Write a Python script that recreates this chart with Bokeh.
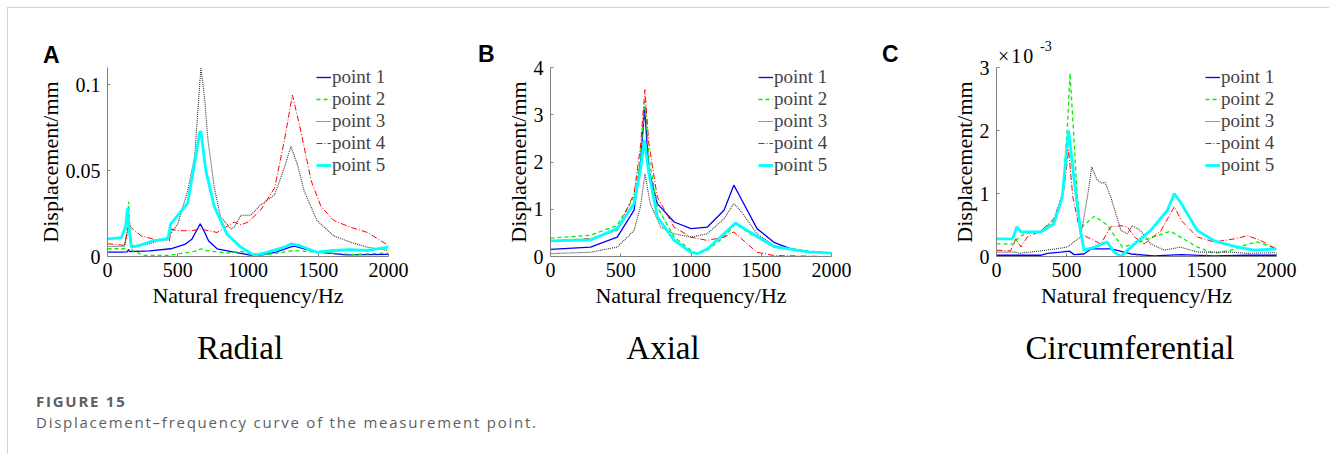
from bokeh.plotting import figure
from bokeh.models import (Range1d, FixedTicker, NumeralTickFormatter, Legend,
                          LegendItem, Div)
from bokeh.layouts import row, column
from bokeh.embed import file_html
from bokeh.resources import INLINE

SERIF = "Liberation Serif"

names = ["point 1", "point 2", "point 3", "point 4", "point 5"]
x_ticks = [0, 500, 1000, 1500, 2000]
panel_letters = ["A", "B", "C"]
panel_titles = ["Radial", "Axial", "Circumferential"]

# ---------------- Panel A : Radial (mm) ----------------
a_f1 = [0, 100, 140, 150, 160, 300, 450, 550, 600, 640, 660, 680, 720, 780, 900, 1050, 1200, 1300, 1330, 1400, 1500, 1700, 2000]
a_v1 = [0.0025, 0.0025, 0.0027, 0.0040, 0.0028, 0.0033, 0.0045, 0.0070, 0.0100, 0.0160, 0.0190, 0.0160, 0.0090, 0.0045, 0.0025, 0.0003, 0.0025, 0.0055, 0.0060, 0.0045, 0.0025, 0.0010, 0.0012]
a_f2 = [0, 120, 140, 150, 160, 175, 260, 430, 620, 665, 700, 850, 950, 1090, 1250, 1320, 1500, 1750, 2000]
a_v2 = [0.0045, 0.0045, 0.0150, 0.0320, 0.0150, 0.0035, 0.0006, 0.0006, 0.0030, 0.0045, 0.0035, 0.0020, 0.0030, 0.0007, 0.0025, 0.0035, 0.0025, 0.0012, 0.0020]
a_f3 = [0, 120, 150, 175, 300, 430, 500, 570, 620, 650, 665, 690, 715, 760, 805, 880, 900, 950, 1020, 1090, 1190, 1260, 1305, 1350, 1400, 1490, 1610, 1730, 1850, 2000]
a_v3 = [0.0058, 0.0060, 0.0180, 0.0060, 0.0074, 0.0110, 0.0190, 0.0380, 0.0580, 0.0930, 0.1100, 0.0930, 0.0680, 0.0400, 0.0230, 0.0160, 0.0170, 0.0240, 0.0240, 0.0300, 0.0360, 0.0520, 0.0640, 0.0540, 0.0380, 0.0210, 0.0120, 0.0083, 0.0054, 0.0035]
a_f4 = [0, 120, 145, 155, 165, 240, 330, 440, 455, 500, 600, 660, 780, 900, 950, 1000, 1090, 1190, 1260, 1316, 1376, 1450, 1520, 1610, 1730, 1850, 2000]
a_v4 = [0.0074, 0.0065, 0.0150, 0.0200, 0.0170, 0.0120, 0.0100, 0.0090, 0.0160, 0.0150, 0.0150, 0.0160, 0.0140, 0.0200, 0.0185, 0.0200, 0.0270, 0.0400, 0.0680, 0.0940, 0.0730, 0.0440, 0.0290, 0.0210, 0.0170, 0.0140, 0.0064]
a_f5 = [0, 100, 130, 142, 155, 170, 230, 330, 430, 450, 500, 570, 620, 655, 665, 700, 760, 850, 950, 1045, 1140, 1260, 1310, 1380, 1490, 1610, 1730, 1850, 2000]
a_v5 = [0.0103, 0.0110, 0.0180, 0.0280, 0.0150, 0.0054, 0.0065, 0.0093, 0.0103, 0.0190, 0.0240, 0.0310, 0.0540, 0.0720, 0.0730, 0.0500, 0.0290, 0.0130, 0.0054, 0.0006, 0.0025, 0.0055, 0.0074, 0.0060, 0.0025, 0.0035, 0.0040, 0.0035, 0.0054]
a_y_ticks = [0, 0.05, 0.1]

# ---------------- Panel B : Axial (mm) ----------------
b_f1 = [0, 285, 475, 595, 640, 670, 700, 760, 880, 1000, 1115, 1235, 1305, 1350, 1470, 1590, 1710, 1830, 2000]
b_v1 = [0.15, 0.20, 0.41, 0.98, 1.97, 3.14, 1.83, 1.12, 0.73, 0.59, 0.62, 0.98, 1.51, 1.26, 0.59, 0.30, 0.16, 0.11, 0.07]
b_f2 = [0, 285, 475, 595, 640, 672, 700, 760, 880, 1000, 1045, 1115, 1235, 1316, 1400, 1590, 1830, 2000]
b_v2 = [0.39, 0.45, 0.66, 1.26, 2.11, 3.29, 2.10, 1.05, 0.41, 0.13, 0.06, 0.13, 0.41, 0.69, 0.52, 0.20, 0.10, 0.07]
b_f3 = [0, 285, 475, 595, 640, 672, 710, 785, 880, 1000, 1115, 1235, 1305, 1350, 1470, 1590, 1830, 2000]
b_v3 = [0.06, 0.09, 0.20, 0.55, 1.05, 1.75, 1.12, 0.62, 0.48, 0.41, 0.48, 0.80, 1.12, 0.98, 0.48, 0.23, 0.11, 0.07]
b_f4 = [0, 285, 475, 595, 640, 672, 700, 760, 880, 1000, 1115, 1235, 1305, 1350, 1470, 1590, 1800, 2000]
b_v4 = [0.33, 0.38, 0.55, 1.33, 2.32, 3.53, 2.39, 1.26, 0.62, 0.41, 0.34, 0.41, 0.52, 0.40, 0.09, 0.02, 0.01, 0.00]
b_f5 = [0, 285, 475, 595, 640, 668, 700, 760, 880, 1000, 1045, 1115, 1235, 1316, 1400, 1590, 1830, 2000]
b_v5 = [0.33, 0.35, 0.59, 1.12, 1.83, 2.46, 1.76, 0.84, 0.34, 0.09, 0.06, 0.16, 0.48, 0.71, 0.55, 0.21, 0.10, 0.07]
b_y_ticks = [0, 1, 2, 3, 4]

# ---------------- Panel C : Circumferential (x 10^-3 mm) ----------------
c_f1 = [0, 320, 365, 460, 520, 555, 625, 675, 820, 960, 1125, 1320, 1550, 1800, 2000]
c_v1 = [0.02, 0.02, 0.05, 0.07, 0.085, 0.03, 0.04, 0.12, 0.12, 0.04, 0.01, 0.03, 0.01, 0.02, 0.02]
c_f2 = [0, 125, 150, 200, 320, 410, 470, 505, 525, 550, 575, 600, 700, 790, 900, 985, 1100, 1245, 1320, 1435, 1555, 1675, 1800, 1865, 2000]
c_v2 = [0.20, 0.20, 0.28, 0.36, 0.41, 0.57, 0.95, 2.00, 2.91, 2.00, 1.00, 0.45, 0.64, 0.50, 0.15, 0.20, 0.30, 0.40, 0.30, 0.15, 0.05, 0.10, 0.20, 0.23, 0.12]
c_f3 = [0, 140, 160, 360, 505, 600, 650, 680, 720, 757, 775, 815, 890, 935, 970, 1030, 1100, 1200, 1315, 1435, 1670, 1790, 2000]
c_v3 = [0.07, 0.07, 0.05, 0.10, 0.15, 0.31, 0.95, 1.42, 1.21, 1.16, 1.18, 0.95, 0.41, 0.36, 0.49, 0.41, 0.20, 0.10, 0.15, 0.07, 0.07, 0.05, 0.06]
c_f4 = [0, 100, 138, 175, 220, 320, 410, 480, 515, 545, 600, 700, 745, 815, 890, 935, 985, 1055, 1175, 1270, 1320, 1435, 1555, 1700, 1795, 1890, 2000]
c_v4 = [0.10, 0.09, 0.28, 0.15, 0.31, 0.41, 0.60, 1.05, 1.69, 0.95, 0.36, 0.25, 0.20, 0.47, 0.49, 0.47, 0.31, 0.20, 0.41, 0.79, 0.57, 0.31, 0.23, 0.28, 0.33, 0.25, 0.12]
c_f5 = [0, 115, 145, 175, 320, 410, 470, 515, 555, 600, 625, 700, 790, 840, 888, 985, 1100, 1220, 1270, 1320, 1435, 1555, 1700, 1840, 2000]
c_v5 = [0.28, 0.28, 0.47, 0.39, 0.39, 0.52, 0.95, 2.00, 1.21, 0.41, 0.10, 0.15, 0.23, 0.07, 0.00, 0.20, 0.41, 0.73, 1.00, 0.84, 0.41, 0.25, 0.16, 0.10, 0.12]
c_y_ticks = [0, 1, 2, 3]

colors = ["#0000ff", "#00ee00", "#333333", "#ff0000", "#00ffff"]
dashes = ["solid", "4 3", "1 1", "6 2 1 2", "solid"]
widths = [1.3, 1.3, 1.1, 1.0, 2.8]


def make_panel(fs, vs, y_end, y_ticks, y_fmt, left, right, fwidth, leg_x, leg_y):
    p = figure(frame_width=fwidth, frame_height=189,
               x_range=Range1d(0, 2000), y_range=Range1d(0, y_end),
               output_backend="svg", toolbar_location=None,
               min_border_left=left, min_border_right=right,
               min_border_top=59, min_border_bottom=54,
               x_axis_label="Natural frequency/Hz",
               y_axis_label="Displacement/mm")
    p.outline_line_color = None
    p.xgrid.visible = False
    p.ygrid.visible = False
    p.background_fill_color = "white"
    p.border_fill_color = "white"
    p.xaxis.ticker = FixedTicker(ticks=x_ticks)
    p.yaxis.ticker = FixedTicker(ticks=y_ticks)
    p.yaxis.formatter = NumeralTickFormatter(format=y_fmt)
    for ax in (p.xaxis[0], p.yaxis[0]):
        ax.axis_line_color = "#808080"
        ax.major_tick_line_color = "#808080"
        ax.major_tick_in = 3
        ax.major_tick_out = 0
        ax.minor_tick_line_color = None
        ax.major_label_text_font = SERIF
        ax.major_label_text_font_size = "20px"
        ax.major_label_text_color = "black"
        ax.axis_label_text_font = SERIF
        ax.axis_label_text_font_size = "22px"
        ax.axis_label_text_font_style = "normal"
        ax.axis_label_text_color = "black"
    p.xaxis.major_label_standoff = 6
    p.xaxis.axis_label_standoff = 3
    p.yaxis.major_label_standoff = 7
    p.yaxis.axis_label_standoff = 0

    items = []
    for i in range(5):
        r = p.line(fs[i], vs[i], line_color=colors[i], line_width=widths[i],
                   line_dash=dashes[i])
        items.append(LegendItem(label=names[i], renderers=[r]))
    leg = Legend(items=items, location=(leg_x, leg_y),
                 label_text_font=SERIF, label_text_font_size="19px",
                 glyph_width=15, glyph_height=22, label_height=22,
                 label_standoff=1, spacing=0, padding=0, margin=0,
                 border_line_color=None, background_fill_alpha=0)
    p.add_layout(leg)
    return p


pA = make_panel([a_f1, a_f2, a_f3, a_f4, a_f5], [a_v1, a_v2, a_v3, a_v4, a_v5],
                0.11, a_y_ticks, "0.[00]", 99, 55, 281, 209, 80)
pB = make_panel([b_f1, b_f2, b_f3, b_f4, b_f5], [b_v1, b_v2, b_v3, b_v4, b_v5],
                4, b_y_ticks, "0", 107, 57, 281, 208, 80)
pC = make_panel([c_f1, c_f2, c_f3, c_f4, c_f5], [c_v1, c_v2, c_v3, c_v4, c_v5],
                3, c_y_ticks, "0", 108, 53, 280, 209, 80)

# ---- strip below the plots: panel titles, plus panel letters and the
#      exponent of panel C, which are lifted up over the plots' top margin ----
MID_TOP = 310  # page y where this strip starts
letter_style = ("position:absolute;font-family:'Liberation Sans';font-weight:bold;"
                "font-size:23px;line-height:23px;color:#000;white-space:nowrap;")
letter_left = [35, 470, 874]
letter_top = [43.5 - MID_TOP, 42.5 - MID_TOP, 42.5 - MID_TOP]
title_centers = [232, 655, 1122]

mid_html = '<div style="position:relative;width:1321px;height:81px;overflow:visible;">'
for k in range(3):
    mid_html += ('<div style="position:absolute;left:%dpx;top:22px;width:400px;'
                 'text-align:center;font-family:\'Liberation Serif\';font-size:33px;'
                 'line-height:33px;color:#000;">%s</div>'
                 % (title_centers[k] - 200, panel_titles[k]))
for k in range(3):
    mid_html += ('<span style="%sleft:%spx;top:%spx;">%s</span>'
                 % (letter_style, letter_left[k], letter_top[k], panel_letters[k]))
mid_html += ('<span style="position:absolute;left:990px;top:%spx;'
             'font-family:\'Liberation Serif\';font-size:20px;line-height:20px;'
             'letter-spacing:2px;color:#000;white-space:nowrap;">×10</span>'
             % (46.3 - MID_TOP))
mid_html += ('<span style="position:absolute;left:1032px;top:%spx;'
             'font-family:\'Liberation Serif\';font-size:14px;line-height:14px;'
             'color:#000;white-space:nowrap;">-3</span>' % (40.3 - MID_TOP))
mid_html += '</div>'
mid_div = Div(text=mid_html, width=1321, height=81, margin=0,
              styles={"overflow": "visible", "z-index": "5"})

cap = Div(text=('<div style="font-family:\'Open Sans\';color:#5e5e5e;'
                'font-size:15px;line-height:21px;letter-spacing:1.75px;padding-left:28px;">'
                '<b>FIGURE 15</b><br>'
                'Displacement–frequency curve of the measurement point.</div>'),
          width=1321, height=63, margin=0)

lay = column(row(pA, pB, pC), mid_div, cap, margin=(7, 0, 0, 7),
             styles={"border-left": "1px solid #d3d3d3",
                     "border-top": "1px solid #d3d3d3"})

open("out.html", "w").write(file_html(lay, INLINE))
